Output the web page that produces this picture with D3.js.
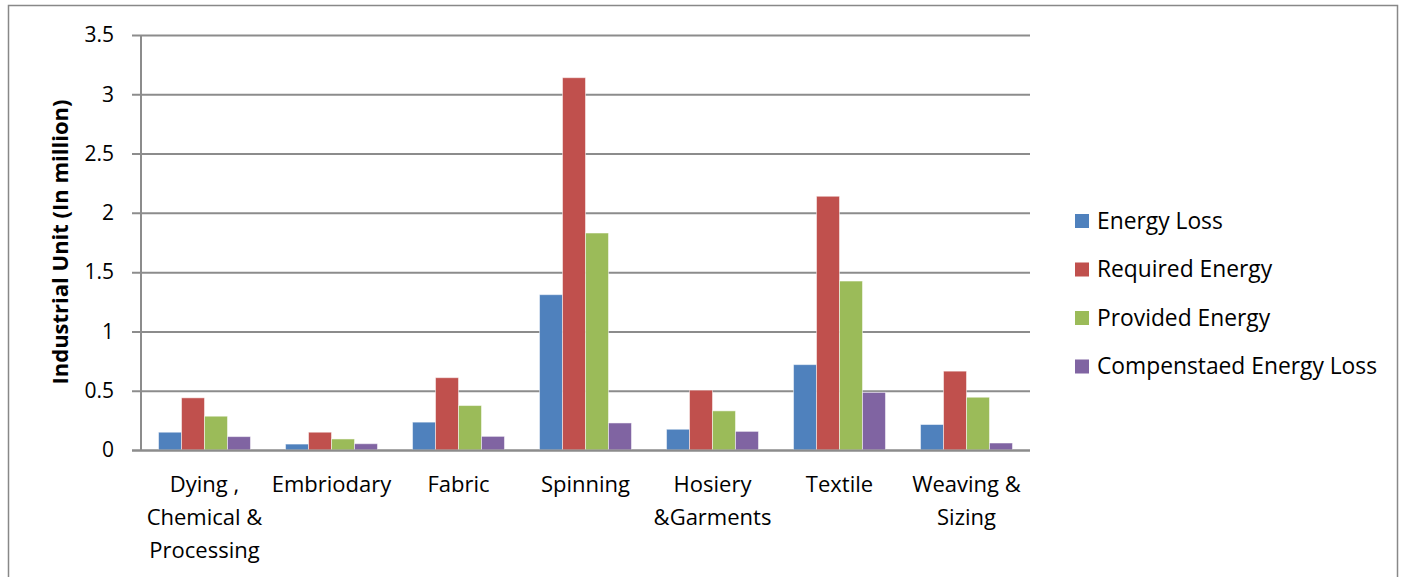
<!DOCTYPE html>
<html><head><meta charset="utf-8">
<script src="https://cdn.jsdelivr.net/npm/d3@7"></script>
<style>body{margin:0;background:#fff}svg{display:block}text{font-family:"Open Sans",sans-serif;fill:#000}</style>
</head><body><svg id="c" width="1406" height="577"></svg>
<script>
const categories = [["Dying ,","Chemical &","Processing"],["Embriodary"],["Fabric"],["Spinning"],["Hosiery","&Garments"],["Textile"],["Weaving &","Sizing"]];
const seriesNames = ["Energy Loss","Required Energy","Provided Energy","Compenstaed Energy Loss"];
const colors = ["#4f81bd","#c0504d","#9bbb59","#8064a2"];
const energyLoss = [0.15,0.05,0.235,1.31,0.175,0.72,0.215];
const requiredEnergy = [0.44,0.15,0.61,3.14,0.505,2.14,0.665];
const providedEnergy = [0.285,0.093,0.375,1.83,0.33,1.425,0.445];
const compensatedLoss = [0.113,0.053,0.115,0.228,0.157,0.486,0.059];
const yTicks = [0,0.5,1,1.5,2,2.5,3,3.5];
const series = [energyLoss,requiredEnergy,providedEnergy,compensatedLoss];

const svg = d3.select("#c");
svg.append("rect").attr("x",8.5).attr("y",5.5).attr("width",1389).attr("height",580).attr("fill","none").attr("stroke","#888").attr("stroke-width",1.5);

const L=141,R=1030,T=35,B=450;
const x = d3.scaleBand().domain(d3.range(categories.length)).range([L,R]).paddingInner(0.276).paddingOuter(0.138);
const xs = d3.scaleBand().domain(d3.range(4)).range([0,x.bandwidth()]);
const y = d3.scaleLinear().domain([0,3.5]).range([B,T]);

const g = svg.append("g");
g.selectAll("line.grid").data(yTicks).join("line").attr("class","grid")
  .attr("x1",132).attr("x2",R).attr("y1",d=>y(d)+0.5).attr("y2",d=>y(d)+0.5)
  .attr("stroke","#8c8c8c").attr("stroke-width",2);
g.append("line").attr("x1",L).attr("x2",L).attr("y1",T).attr("y2",B+1).attr("stroke","#8c8c8c").attr("stroke-width",2);
g.selectAll("text.yt").data(yTicks).join("text").attr("class","yt")
  .attr("x",114).attr("y",d=>y(d)).attr("dy","0.35em").attr("text-anchor","end")
  .style("font-size","21px").text(d=>d3.format("")(d));

series.forEach((s,si)=>{
  g.selectAll("rect.s"+si).data(s).join("rect").attr("class","s"+si)
   .attr("x",(d,i)=>x(i)+xs(si)).attr("width",xs.bandwidth())
   .attr("y",d=>y(d)).attr("height",d=>B-y(d))
   .attr("fill",colors[si]).attr("stroke","#fff").attr("stroke-opacity",0.5).attr("stroke-width",1);
});
g.append("line").attr("x1",132).attr("x2",R).attr("y1",B+0.5).attr("y2",B+0.5).attr("stroke","#8c8c8c").attr("stroke-width",2);

categories.forEach((lines,i)=>{
  const cx = x(i)+x.bandwidth()/2;
  lines.forEach((ln,j)=>{
    g.append("text").attr("x",cx).attr("y",484+j*33).attr("dy","0.35em").attr("text-anchor","middle")
     .style("font-size","22px").text(ln);
  });
});

svg.append("text").attr("transform","translate(60,242) rotate(-90)").attr("text-anchor","middle").attr("dy","0.35em")
  .style("font-size","22px").style("font-weight","bold").text("Industrial Unit (In million)");

const lg = svg.append("g");
seriesNames.forEach((n,i)=>{
  lg.append("rect").attr("x",1075).attr("y",221+i*48.5-7).attr("width",14).attr("height",14).attr("fill",colors[i]);
  lg.append("text").attr("x",1097).attr("y",221+i*48.5).attr("dy","0.35em").style("font-size","22.8px").text(n);
});
</script></body></html>
